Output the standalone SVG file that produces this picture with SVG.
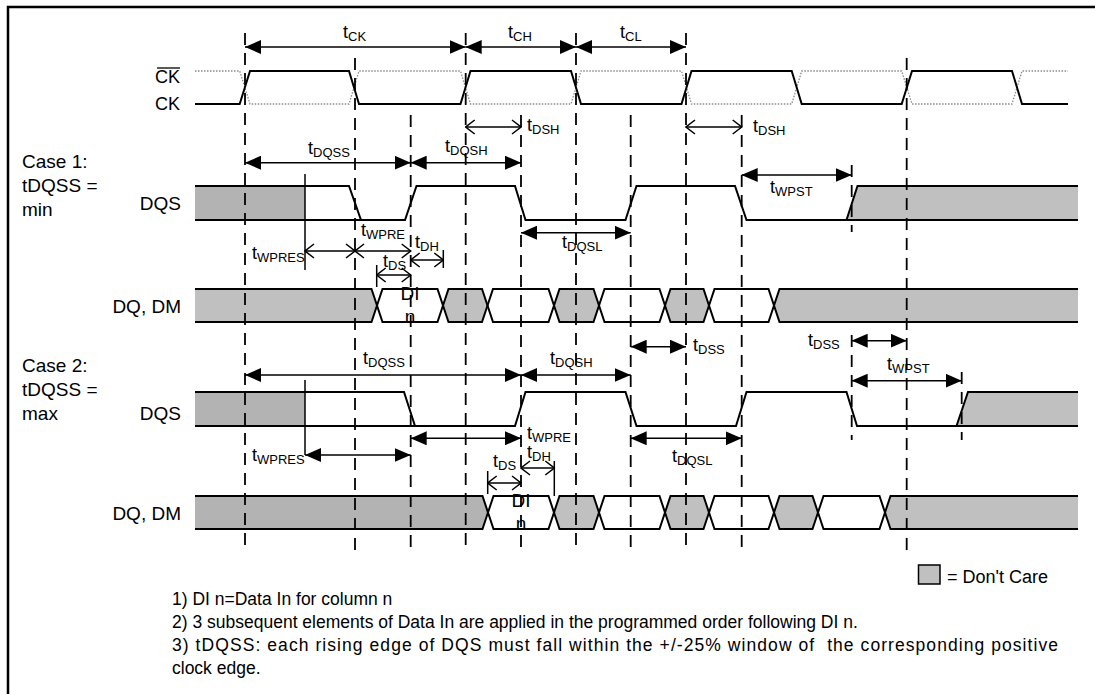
<svg xmlns="http://www.w3.org/2000/svg" width="1095" height="694" viewBox="0 0 1095 694">
<style>
text{font-family:"Liberation Sans",Arial,sans-serif;fill:#000}
.lbl{font-size:19px}
.t{font-size:18px}
.s{font-size:13px}
.note{font-size:17.5px}
.wave{fill:none;stroke:#000;stroke-width:2}
.dot{fill:none;stroke:#8a8a8a;stroke-width:1.3;stroke-dasharray:1.5 1.5}
.dash{stroke:#000;stroke-width:1.8;stroke-dasharray:12 8;fill:none}
.tick{stroke:#000;stroke-width:1.5}
.fa{stroke:#000;stroke-width:1.5;fill:none;marker-start:url(#fa);marker-end:url(#fa)}
.oa{stroke:#000;stroke-width:1.5;fill:none;marker-start:url(#oa);marker-end:url(#oa)}
.g1{fill:#b3b3b3}
.g2{fill:#c0c0c0}
</style>
<defs>
<marker id="fa" viewBox="0 0 16 14" refX="16" refY="7" markerWidth="16" markerHeight="14" orient="auto-start-reverse" markerUnits="userSpaceOnUse"><path d="M0,0 L16,7 L0,14 z" fill="#000"/></marker>
<marker id="oa" viewBox="0 0 11 16" refX="10" refY="8" markerWidth="11" markerHeight="16" orient="auto-start-reverse" markerUnits="userSpaceOnUse"><path d="M1,1 L10,8 L1,15" fill="none" stroke="#000" stroke-width="1.5"/></marker>
</defs>
<rect width="1095" height="694" fill="#fff"/>
<path d="M8,694 V7 H1095" fill="none" stroke="#000" stroke-width="2.5"/>

<g id="clock">
<path class="dot" d="M195,71 H239.7 L250,104 H349 L359,71 H460.5 L470.5,104 H571 L581,71 H681.5 L691.5,104 H791.7 L801.7,71 H901.7 L912,104 H1012 L1022,71 H1068"/>
<path class="wave" d="M195,104 H239.7 L250,71 H349 L359,104 H460.5 L470.5,71 H571 L581,104 H681.5 L691.5,71 H791.7 L801.7,104 H901.7 L912,71 H1012 L1022,104 H1068"/>
<text class="lbl" x="180" y="83" text-anchor="end" style="font-size:18px">CK</text>
<line x1="157" y1="68" x2="180" y2="68" stroke="#000" stroke-width="1.3"/>
<text class="lbl" x="180" y="110" text-anchor="end" style="font-size:18px">CK</text>
</g>

<g id="case1-label">
<text class="lbl" x="22" y="168">Case 1:</text>
<text class="lbl" x="22" y="192">tDQSS =</text>
<text class="lbl" x="22" y="216">min</text>
</g>

<g id="dqs1">
<rect class="g1" x="195" y="186" width="110" height="34"/>
<polygon class="g2" points="846.5,220 857.5,186 1078,186 1078,220"/>
<path class="wave" d="M195,186 H349 L361,220 H405 L416.5,186 H515 L525.5,220 H625.5 L636.5,186 H735 L746.5,220 H846.5 L857.5,186 H1078"/>
<path class="wave" d="M195,220 H361 M846.5,220 H1078"/>
<line class="tick" x1="305" y1="174" x2="305" y2="270"/>
<text class="lbl" x="181" y="210" text-anchor="end">DQS</text>
</g>

<g id="dq1">
<polygon class="g2" points="195,289 371.5,289 377,305.5 371.5,322 195,322"/>
<polygon class="g2" points="443,305.5 448.5,289 482,289 487.5,305.5 482,322 448.5,322"/>
<polygon class="g2" points="554,305.5 559.5,289 593.5,289 599,305.5 593.5,322 559.5,322"/>
<polygon class="g2" points="665,305.5 670.5,289 703.5,289 709,305.5 703.5,322 670.5,322"/>
<polygon class="g2" points="774,305.5 779.5,289 1078,289 1078,322 779.5,322"/>
<path class="wave" d="M195,289 H371.5 L382.5,322 H437.5 L448.5,289 H482 L493,322 H548.5 L559.5,289 H593.5 L604.5,322 H659.5 L670.5,289 H703.5 L714.5,322 H768.5 L779.5,289 H1078"/>
<path class="wave" d="M195,322 H371.5 L382.5,289 H437.5 L448.5,322 H482 L493,289 H548.5 L559.5,322 H593.5 L604.5,289 H659.5 L670.5,322 H703.5 L714.5,289 H768.5 L779.5,322 H1078"/>
<text class="lbl" x="181" y="313" text-anchor="end">DQ, DM</text>
<text class="lbl" x="410" y="300" text-anchor="middle">DI</text>
<text class="lbl" x="410" y="323" text-anchor="middle">n</text>
</g>

<g id="case2-label">
<text class="lbl" x="22" y="372">Case 2:</text>
<text class="lbl" x="22" y="396">tDQSS =</text>
<text class="lbl" x="22" y="420">max</text>
</g>

<g id="dqs2">
<rect class="g1" x="195" y="392" width="110" height="34"/>
<polygon class="g2" points="956.5,426 968,392 1078,392 1078,426"/>
<path class="wave" d="M195,392 H404 L415,426 H515 L525.5,392 H625.5 L636.5,426 H736 L746.5,392 H846.5 L857,426 H956.5 L968,392 H1078"/>
<path class="wave" d="M195,426 H415 M956.5,426 H1078"/>
<line class="tick" x1="305" y1="380" x2="305" y2="455"/>
<text class="lbl" x="181" y="420" text-anchor="end">DQS</text>
</g>

<g id="dq2">
<polygon class="g1" points="195,496 482.5,496 488,512.5 482.5,529 195,529"/>
<polygon class="g2" points="554,512.5 559.5,496 593.5,496 599,512.5 593.5,529 559.5,529"/>
<polygon class="g2" points="665,512.5 670.5,496 703.5,496 709,512.5 703.5,529 670.5,529"/>
<polygon class="g2" points="774,512.5 779.5,496 812.5,496 818,512.5 812.5,529 779.5,529"/>
<polygon class="g2" points="885,512.5 890.5,496 1078,496 1078,529 890.5,529"/>
<path class="wave" d="M195,496 H482.5 L493.5,529 H548.5 L559.5,496 H593.5 L604.5,529 H659.5 L670.5,496 H703.5 L714.5,529 H768.5 L779.5,496 H812.5 L823.5,529 H879.5 L890.5,496 H1078"/>
<path class="wave" d="M195,529 H482.5 L493.5,496 H548.5 L559.5,529 H593.5 L604.5,496 H659.5 L670.5,529 H703.5 L714.5,496 H768.5 L779.5,529 H812.5 L823.5,496 H879.5 L890.5,529 H1078"/>
<text class="lbl" x="181" y="520" text-anchor="end">DQ, DM</text>
<text class="lbl" x="521" y="507" text-anchor="middle">DI</text>
<text class="lbl" x="521" y="530" text-anchor="middle">n</text>
</g>

<g id="connectors">
<g id="gridlines">
<line class="dash" x1="245" y1="33" x2="245" y2="553"/>
<line class="dash" x1="355" y1="58" x2="355" y2="553"/>
<line class="dash" x1="465.7" y1="33" x2="465.7" y2="553"/>
<line class="dash" x1="576" y1="33" x2="576" y2="553"/>
<line class="dash" x1="686" y1="33" x2="686" y2="553"/>
<line class="dash" x1="906.7" y1="58" x2="906.7" y2="553"/>
<line class="dash" x1="410.7" y1="115" x2="410.7" y2="553"/>
<line class="dash" x1="521" y1="115" x2="521" y2="553"/>
<line class="dash" x1="630.7" y1="115" x2="630.7" y2="553"/>
<line class="dash" x1="741.7" y1="115" x2="741.7" y2="553"/>
<line class="dash" x1="851.7" y1="165" x2="851.7" y2="232"/>
<line class="dash" x1="851.7" y1="335" x2="851.7" y2="440"/>
<line class="dash" x1="961.7" y1="372" x2="961.7" y2="440"/>
<line class="tick" x1="376.7" y1="265" x2="376.7" y2="287"/>
<line class="tick" x1="443.3" y1="250" x2="443.3" y2="268"/>
<line class="tick" x1="487.7" y1="471" x2="487.7" y2="494"/>
<line class="tick" x1="554.3" y1="461" x2="554.3" y2="496"/>
</g>
<g id="arrows">
<line class="fa" x1="245" y1="47" x2="465.7" y2="47"/>
<line class="fa" x1="465.7" y1="47" x2="576" y2="47"/>
<line class="fa" x1="576" y1="47" x2="686" y2="47"/>
<line class="oa" x1="465.7" y1="127" x2="521" y2="127"/>
<line class="oa" x1="686" y1="127" x2="741.7" y2="127"/>
<line class="fa" x1="245" y1="162.7" x2="410.7" y2="162.7"/>
<line class="fa" x1="410.7" y1="162.7" x2="521" y2="162.7"/>
<line class="fa" x1="741.7" y1="175" x2="851.7" y2="175"/>
<line class="fa" x1="521" y1="232.7" x2="630.7" y2="232.7"/>
<line class="oa" x1="305" y1="251" x2="355" y2="251"/>
<line class="oa" x1="355" y1="251" x2="410.7" y2="251"/>
<line class="oa" x1="410.7" y1="260" x2="443.3" y2="260"/>
<line class="oa" x1="376.7" y1="275" x2="410.7" y2="275"/>
<line class="fa" x1="630.7" y1="346.7" x2="686" y2="346.7"/>
<line class="fa" x1="851.7" y1="340.7" x2="906.7" y2="340.7"/>
<line class="fa" x1="245" y1="375" x2="521" y2="375"/>
<line class="fa" x1="521" y1="375" x2="630.7" y2="375"/>
<line class="fa" x1="851.7" y1="380.7" x2="961.7" y2="380.7"/>
<line class="fa" x1="410.7" y1="438.3" x2="521" y2="438.3"/>
<line class="fa" x1="630.7" y1="438.3" x2="741.7" y2="438.3"/>
<line class="fa" x1="305" y1="455" x2="410.7" y2="455"/>
<line class="oa" x1="521" y1="468" x2="554.3" y2="468"/>
<line class="oa" x1="487.7" y1="483" x2="521" y2="483"/>
</g>
</g>

<g id="timing-labels">
<text class="t" x="343" y="38">t<tspan class="s" dy="3">CK</tspan></text>
<text class="t" x="508" y="38">t<tspan class="s" dy="3">CH</tspan></text>
<text class="t" x="620" y="38">t<tspan class="s" dy="3">CL</tspan></text>
<text class="t" x="527" y="131">t<tspan class="s" dy="3">DSH</tspan></text>
<text class="t" x="753" y="132">t<tspan class="s" dy="3">DSH</tspan></text>
<text class="t" x="308" y="154">t<tspan class="s" dy="3">DQSS</tspan></text>
<text class="t" x="445" y="152">t<tspan class="s" dy="3">DQSH</tspan></text>
<text class="t" x="770" y="193">t<tspan class="s" dy="3">WPST</tspan></text>
<text class="t" x="361" y="236">t<tspan class="s" dy="3">WPRE</tspan></text>
<text class="t" x="562" y="248">t<tspan class="s" dy="3">DQSL</tspan></text>
<text class="t" x="415" y="248">t<tspan class="s" dy="3">DH</tspan></text>
<text class="t" x="383" y="267">t<tspan class="s" dy="3">DS</tspan></text>
<text class="t" x="252" y="259">t<tspan class="s" dy="3">WPRES</tspan></text>
<text class="t" x="693" y="351">t<tspan class="s" dy="3">DSS</tspan></text>
<text class="t" x="808" y="346">t<tspan class="s" dy="3">DSS</tspan></text>
<text class="t" x="363" y="364">t<tspan class="s" dy="3">DQSS</tspan></text>
<text class="t" x="550" y="364">t<tspan class="s" dy="3">DQSH</tspan></text>
<text class="t" x="887" y="370">t<tspan class="s" dy="3">WPST</tspan></text>
<text class="t" x="527" y="439">t<tspan class="s" dy="3">WPRE</tspan></text>
<text class="t" x="527" y="458">t<tspan class="s" dy="3">DH</tspan></text>
<text class="t" x="493" y="467">t<tspan class="s" dy="3">DS</tspan></text>
<text class="t" x="672" y="462">t<tspan class="s" dy="3">DQSL</tspan></text>
<text class="t" x="252" y="461">t<tspan class="s" dy="3">WPRES</tspan></text>
</g>

<g id="legend">
<rect class="g2" x="918.5" y="565" width="21.5" height="19" stroke="#000" stroke-width="1.5"/>
<text class="lbl" x="947" y="583" style="font-size:18px">= Don't Care</text>
</g>

<g id="notes">
<text class="note" x="172" y="605">1) DI n=Data In for column n</text>
<text class="note" x="172" y="628">2) 3 subsequent elements of Data In are applied in the programmed order following DI n.</text>
<text class="note" x="172" y="651" xml:space="preserve" textLength="886" lengthAdjust="spacing">3) tDQSS: each rising edge of DQS must fall within the +/-25% window of  the corresponding positive</text>
<text class="note" x="172" y="674">clock edge.</text>
</g>
</svg>
